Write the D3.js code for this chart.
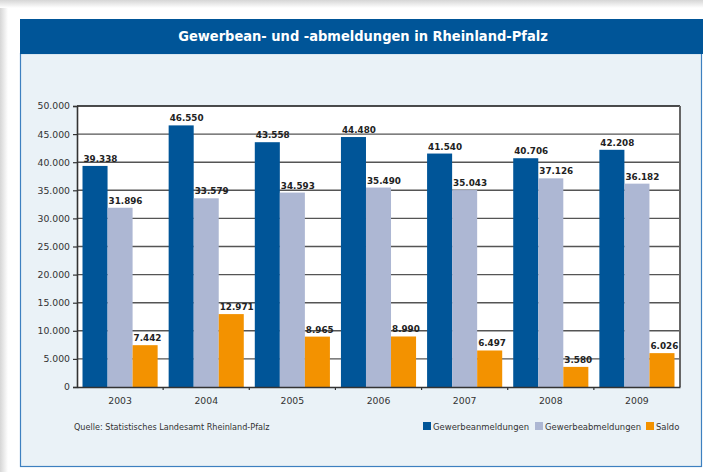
<!DOCTYPE html>
<html lang="de">
<head>
<meta charset="UTF-8">
<title>Gewerbean- und -abmeldungen in Rheinland-Pfalz</title>
<script src="https://d3js.org/d3.v7.min.js"></script>
<style>
  body { margin: 0; padding: 0; background: #fff; }
  svg { display: block; }
</style>
</head>
<body>
<svg id="chart" width="703" height="472"></svg>
<script>
// data
const years = ["2003", "2004", "2005", "2006", "2007", "2008", "2009"];
const series = ["Gewerbeanmeldungen", "Gewerbeabmeldungen", "Saldo"];
const anmeldungen = [39338, 46550, 43558, 44480, 41540, 40706, 42208];
const abmeldungen = [31896, 33579, 34593, 35490, 35043, 37126, 36182];
const saldo = [7442, 12971, 8965, 8990, 6497, 3580, 6026];
const yTicks = [0, 5000, 10000, 15000, 20000, 25000, 30000, 35000, 40000, 45000, 50000];

const colors = ["#005598", "#adb7d3", "#f39200"];
const values = [anmeldungen, abmeldungen, saldo];

const de = d3.formatLocale({decimal: ",", thousands: ".", grouping: [3], currency: ["", " €"]});
const fmt = de.format(",d");

const svg = d3.select("#chart");

// page shading
const defs = svg.append("defs");
const gl = defs.append("linearGradient").attr("id", "gl").attr("x1", 0).attr("x2", 1);
gl.append("stop").attr("offset", 0).attr("stop-color", "#d6d6d6");
gl.append("stop").attr("offset", 1).attr("stop-color", "#ffffff");
const gt = defs.append("linearGradient").attr("id", "gt").attr("x1", 0).attr("x2", 0).attr("y1", 0).attr("y2", 1);
gt.append("stop").attr("offset", 0).attr("stop-color", "#d6d6d6");
gt.append("stop").attr("offset", 1).attr("stop-color", "#ffffff");
svg.append("rect").attr("x", 0).attr("y", 0).attr("width", 703).attr("height", 472).attr("fill", "#fff");
svg.append("rect").attr("x", 0).attr("y", 0).attr("width", 8).attr("height", 472).attr("fill", "url(#gl)");
svg.append("rect").attr("x", 0).attr("y", 0).attr("width", 703).attr("height", 8).attr("fill", "url(#gt)");

// panel + title bar
svg.append("rect").attr("x", 20.5).attr("y", 53.5).attr("width", 681).attr("height", 413)
  .attr("fill", "#eaf2f7").attr("stroke", "#3d80c0").attr("stroke-width", 1.2);
svg.append("rect").attr("x", 20).attr("y", 19).attr("width", 683).attr("height", 35).attr("fill", "#005598");
svg.append("text").attr("x", 363).attr("y", 41).attr("text-anchor", "middle")
  .attr("fill", "#fff").style("font-family", "DejaVu Sans Condensed, DejaVu Sans")
  .style("font-size", "14.5px").style("font-weight", "bold")
  .text("Gewerbean- und -abmeldungen in Rheinland-Pfalz");

// scales
const plotL = 77, plotR = 680, plotT = 106, plotB = 387;
const x0 = d3.scaleBand().domain(years).range([plotL, plotR]);
const x1 = d3.scaleBand().domain(series).range([0, x0.bandwidth()]).paddingOuter(0.22);
const y = d3.scaleLinear().domain([0, 50000]).range([plotB, plotT]);

svg.append("rect").attr("x", plotL).attr("y", plotT).attr("width", plotR - plotL).attr("height", plotB - plotT).attr("fill", "#fff");

// gridlines
svg.append("g").selectAll("line").data(yTicks.filter(d => d > 0)).enter().append("line")
  .attr("x1", plotL).attr("x2", plotR)
  .attr("y1", d => y(d)).attr("y2", d => y(d))
  .attr("stroke", d => d === 50000 ? "#111" : "#555").attr("stroke-width", 1.4);
svg.append("line").attr("x1", plotR).attr("x2", plotR).attr("y1", plotT).attr("y2", plotB)
  .attr("stroke", "#666").attr("stroke-width", 2);

// bars
const groups = svg.append("g").selectAll("g").data(years).enter().append("g")
  .attr("transform", d => "translate(" + x0(d) + ",0)");

series.forEach(function(s, si) {
  groups.append("rect")
    .attr("x", x1(s))
    .attr("y", (d, i) => y(values[si][i]))
    .attr("width", x1.bandwidth())
    .attr("height", (d, i) => plotB - y(values[si][i]))
    .attr("fill", colors[si]);
});
series.forEach(function(s, si) {
  groups.append("text")
    .attr("x", x1(s) + 1)
    .attr("y", (d, i) => y(values[si][i]) - 4)
    .attr("fill", "#222")
    .style("font-family", "DejaVu Sans")
    .style("font-size", "8.8px")
    .style("font-weight", "bold")
    .text((d, i) => fmt(values[si][i]));
});

// axes
const yAxis = svg.append("g").attr("transform", "translate(" + plotL + ",0)")
  .call(d3.axisLeft(y).tickValues(yTicks).tickFormat(fmt).tickSize(4).tickPadding(3));
const xAxis = svg.append("g").attr("transform", "translate(0," + plotB + ")")
  .call(d3.axisBottom(x0).tickSize(0).tickPadding(10));
svg.append("g").selectAll("line").data(years.slice(1)).enter().append("line")
  .attr("x1", d => x0(d)).attr("x2", d => x0(d))
  .attr("y1", plotB).attr("y2", plotB + 3)
  .attr("stroke", "#333").attr("stroke-width", 1.2);

[yAxis, xAxis].forEach(function(a) {
  a.select(".domain").attr("stroke", "#333").attr("stroke-width", 1.6);
  a.selectAll(".tick line").attr("stroke", "#333").attr("stroke-width", 1.2);
  a.selectAll(".tick text").attr("fill", "#333")
    .style("font-family", "DejaVu Sans").style("font-size", "9.3px");
});

// source
svg.append("text").attr("x", 74).attr("y", 430).attr("fill", "#333")
  .style("font-family", "DejaVu Sans Condensed, DejaVu Sans").style("font-size", "9px")
  .text("Quelle: Statistisches Landesamt Rheinland-Pfalz");

// legend
const legendX = [423, 535, 646];
const legend = svg.append("g").selectAll("g").data(series).enter().append("g")
  .attr("transform", (d, i) => "translate(" + legendX[i] + ",422)");
legend.append("rect").attr("width", 8).attr("height", 8).attr("fill", (d, i) => colors[i]);
legend.append("text").attr("x", 10).attr("y", 7.5).attr("fill", "#333")
  .style("font-family", "DejaVu Sans Condensed, DejaVu Sans").style("font-size", "9.4px")
  .text(d => d);
</script>
</body>
</html>
